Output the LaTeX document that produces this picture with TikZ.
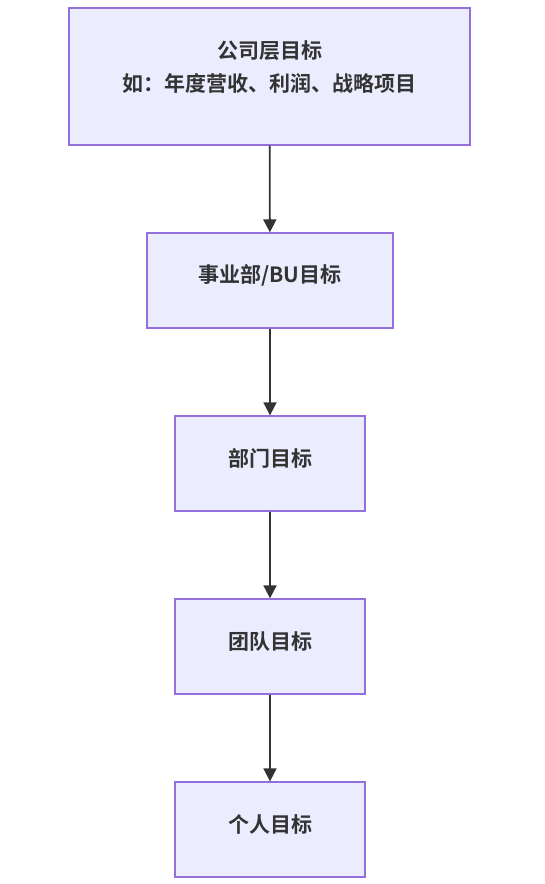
\documentclass[tikz,border=0pt]{standalone}
\usepackage{fontspec}
\setmainfont{Noto Sans CJK SC}[BoldFont={* Bold}]
\usetikzlibrary{arrows.meta}
\definecolor{boxfill}{HTML}{ECECFF}
\definecolor{boxline}{HTML}{9370DB}
\definecolor{txt}{HTML}{333333}
\tikzset{
  goalbox/.style={draw=boxline, fill=boxfill, line width=1.3pt, inner sep=0pt},
  goaltext/.style={align=center, inner sep=0pt, text=txt,
    font=\fontsize{21}{33}\selectfont\bfseries},
  flow/.style={draw=txt, line width=1.8pt, -{Triangle[length=13pt,width=13pt]}}
}
\begin{document}
\begin{tikzpicture}[x=1pt,y=-1pt]
\useasboundingbox (0,0) rectangle (545,884);
\node[goalbox, minimum width=401pt, minimum height=137pt,
  label={[goaltext, yshift=9.5pt]center:公司层目标\\如：年度营收、利润、战略项目}] (a) at (269.5,76.5) {};
\node[goalbox, minimum width=246pt, minimum height=95pt,
  label={[goaltext, yshift=5pt]center:事业部/BU目标}] (b) at (270,280.5) {};
\node[goalbox, minimum width=190pt, minimum height=95pt,
  label={[goaltext, yshift=5pt]center:部门目标}] (c) at (270,463.5) {};
\node[goalbox, minimum width=190pt, minimum height=95pt,
  label={[goaltext, yshift=5pt]center:团队目标}] (d) at (270,646.5) {};
\node[goalbox, minimum width=190pt, minimum height=95pt,
  label={[goaltext, yshift=5pt]center:个人目标}] (e) at (270,829.5) {};
\draw[flow] (a) -- (b);
\draw[flow] (b) -- (c);
\draw[flow] (c) -- (d);
\draw[flow] (d) -- (e);
\end{tikzpicture}
\end{document}
